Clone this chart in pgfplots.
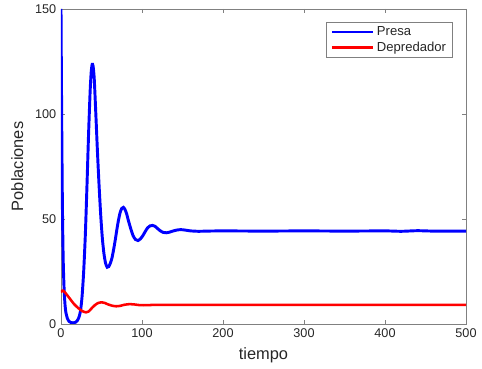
\documentclass[border=0pt]{standalone}
\usepackage{pgfplots}
\pgfplotsset{compat=1.18}
\usepackage{fontspec}
\setmainfont{Liberation Sans}
\definecolor{axgray}{RGB}{128,128,128}
\definecolor{txtgray}{RGB}{38,38,38}
\begin{document}
\begin{tikzpicture}[x=1pt,y=1pt]
\begin{axis}[
  name=ax,
  at={(45.75pt,33.75pt)}, anchor=south west,
  scale only axis,
  width=303.75pt, height=236.25pt,
  xmin=0, xmax=500, ymin=0, ymax=150,
  xtick={0,100,200,300,400,500},
  ytick={0,50,100,150},
  tick align=inside,
  major tick length=3pt,
  axis line style={axgray, line width=0.6pt},
  every tick/.style={axgray, line width=0.6pt},
  tick label style={font=\fontsize{9.5}{11}\selectfont, text=txtgray},
  /pgf/number format/assume math mode=true,
  xlabel={tiempo}, ylabel={Poblaciones},
  label style={font=\fontsize{12.3}{14}\selectfont, text=txtgray},
  xlabel style={yshift=-1pt},
  ylabel style={yshift=2pt},
  legend style={at={(0.968,0.96)}, anchor=north east, draw=axgray, line width=0.6pt,
    font=\fontsize{9.8}{10.3}\selectfont, text=txtgray, inner xsep=3pt, inner ysep=1.5pt,
    row sep=-1pt},
  legend cell align=left,
  legend image code/.code={\draw[#1, line width=1.8pt] (0pt,0pt) -- (31pt,0pt);},
  clip=true,
]
\addplot[blue, line width=2.2pt, smooth, tension=0.4] coordinates {
(0,150) (0.5,118) (1,90) (1.5,66) (2,48) (2.5,35) (3,26) (4,15) (5,9) (6,5.5)
(8,2.5) (10,1.2) (12,0.7) (15,0.5) (18,0.8) (20,1.5) (22,3) (24,6) (26,13)
(28,25) (30,42) (32,65) (34,90) (36,111) (37.3,120) (38.5,123.6) (39.6,122.8)
(41,117) (43,100) (45,82) (47,66) (49,52) (51,41) (53,33.5) (55,29) (57,27) (59,27.3)
(61,29) (63,31.5) (65,35.5) (67,40) (69,45) (71,49.5) (73,53) (75,55) (77,55.5)
(79,54.5) (81,52.5) (83,49.5) (86,45.5) (89,42) (92,40.2) (95,39.7) (98,40.5)
(101,42) (104,44) (107,45.8) (110,46.7) (113,46.9) (116,46.5) (119,45.5) (122,44.5)
(126,43.6) (130,43.4) (134,43.7) (138,44.2) (143,44.7) (148,44.9) (153,44.7)
(160,44.3) (170,44.1) (180,44.2) (200,44.3) (250,44.2) (300,44.3) (350,44.2)
(400,44.3) (420,44.1) (440,44.4) (460,44.2) (500,44.2)
};
\addlegendentry{Presa}
\addplot[red, line width=1.9pt, smooth, tension=0.4] coordinates {
(0,15) (1.5,15.8) (3,15.8) (5,15) (8,13.5) (12,11.5) (16,9.5) (20,8) (24,6.7)
(28,5.8) (31,5.5) (34,5.9) (38,7.5) (42,9) (46,10) (50,10.3) (54,10) (58,9.3)
(63,8.7) (68,8.4) (73,8.6) (78,9.1) (84,9.4) (90,9.3) (96,9.0) (102,8.9)
(110,9.0) (120,9.1) (140,9.1) (200,9.1) (300,9.1) (400,9.1) (500,9.1)
};
\addlegendentry{Depredador}
\end{axis}
\useasboundingbox (0,0) rectangle (361.5pt,276pt);
\end{tikzpicture}
\end{document}
